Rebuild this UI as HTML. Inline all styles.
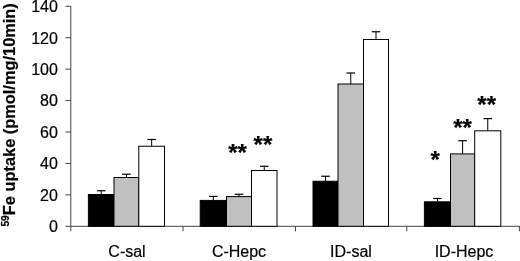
<!DOCTYPE html>
<html><head><meta charset="utf-8"><title>chart</title>
<style>
html,body{margin:0;padding:0;background:#fff;}
svg{display:block;}
text{font-family:"Liberation Sans",Arial,sans-serif;fill:#000;stroke:#000;stroke-width:0.2px;}
</style></head><body>
<svg width="520" height="261" viewBox="0 0 520 261">
<rect width="520" height="261" fill="#fff"/>

<g stroke="#444" stroke-width="1" fill="none">
<line x1="70.8" y1="6" x2="70.8" y2="226.8"/>
<line x1="65.5" y1="226.3" x2="520" y2="226.3"/>
<line x1="65.5" y1="194.87" x2="70.8" y2="194.87"/>
<line x1="65.5" y1="163.44" x2="70.8" y2="163.44"/>
<line x1="65.5" y1="132.01" x2="70.8" y2="132.01"/>
<line x1="65.5" y1="100.58" x2="70.8" y2="100.58"/>
<line x1="65.5" y1="69.15" x2="70.8" y2="69.15"/>
<line x1="65.5" y1="37.72" x2="70.8" y2="37.72"/>
<line x1="65.5" y1="6.29" x2="70.8" y2="6.29"/>
<line x1="70.8" y1="226.3" x2="70.8" y2="231.3"/>
<line x1="183" y1="226.3" x2="183" y2="231.3"/>
<line x1="295.5" y1="226.3" x2="295.5" y2="231.3"/>
<line x1="406.8" y1="226.3" x2="406.8" y2="231.3"/>
<line x1="519.4" y1="226.3" x2="519.4" y2="231.3"/>
</g>
<line x1="101.20" y1="194.5" x2="101.20" y2="190.75" stroke="#000" stroke-width="1"/>
<line x1="96.90" y1="190.75" x2="105.50" y2="190.75" stroke="#000" stroke-width="1.2"/>
<rect x="88.4" y="194.5" width="25.60" height="31.80" fill="#000" stroke="#000" stroke-width="1"/>
<line x1="126.40" y1="177.5" x2="126.40" y2="174.2" stroke="#000" stroke-width="1"/>
<line x1="122.10" y1="174.2" x2="130.70" y2="174.2" stroke="#000" stroke-width="1.2"/>
<rect x="114" y="177.5" width="24.80" height="48.80" fill="#c0c0c0" stroke="#000" stroke-width="1"/>
<line x1="151.65" y1="146.25" x2="151.65" y2="139.5" stroke="#000" stroke-width="1"/>
<line x1="147.35" y1="139.5" x2="155.95" y2="139.5" stroke="#000" stroke-width="1.2"/>
<rect x="138.8" y="146.25" width="25.70" height="80.05" fill="#fff" stroke="#000" stroke-width="1"/>
<line x1="213.35" y1="200.4" x2="213.35" y2="196.4" stroke="#000" stroke-width="1"/>
<line x1="209.05" y1="196.4" x2="217.65" y2="196.4" stroke="#000" stroke-width="1.2"/>
<rect x="200.2" y="200.4" width="26.30" height="25.90" fill="#000" stroke="#000" stroke-width="1"/>
<line x1="239.00" y1="196.6" x2="239.00" y2="194.3" stroke="#000" stroke-width="1"/>
<line x1="234.70" y1="194.3" x2="243.30" y2="194.3" stroke="#000" stroke-width="1.2"/>
<rect x="226.5" y="196.6" width="25.00" height="29.70" fill="#c0c0c0" stroke="#000" stroke-width="1"/>
<line x1="264.25" y1="170.5" x2="264.25" y2="166.25" stroke="#000" stroke-width="1"/>
<line x1="259.95" y1="166.25" x2="268.55" y2="166.25" stroke="#000" stroke-width="1.2"/>
<rect x="251.5" y="170.5" width="25.50" height="55.80" fill="#fff" stroke="#000" stroke-width="1"/>
<line x1="325.50" y1="181.25" x2="325.50" y2="176.25" stroke="#000" stroke-width="1"/>
<line x1="321.20" y1="176.25" x2="329.80" y2="176.25" stroke="#000" stroke-width="1.2"/>
<rect x="313" y="181.25" width="25.00" height="45.05" fill="#000" stroke="#000" stroke-width="1"/>
<line x1="350.75" y1="84" x2="350.75" y2="73" stroke="#000" stroke-width="1"/>
<line x1="346.45" y1="73" x2="355.05" y2="73" stroke="#000" stroke-width="1.2"/>
<rect x="338" y="84" width="25.50" height="142.30" fill="#c0c0c0" stroke="#000" stroke-width="1"/>
<line x1="376.00" y1="39.5" x2="376.00" y2="31.75" stroke="#000" stroke-width="1"/>
<line x1="371.70" y1="31.75" x2="380.30" y2="31.75" stroke="#000" stroke-width="1.2"/>
<rect x="363.5" y="39.5" width="25.00" height="186.80" fill="#fff" stroke="#000" stroke-width="1"/>
<line x1="437.45" y1="201.8" x2="437.45" y2="198.5" stroke="#000" stroke-width="1"/>
<line x1="433.15" y1="198.5" x2="441.75" y2="198.5" stroke="#000" stroke-width="1.2"/>
<rect x="424.4" y="201.8" width="26.10" height="24.50" fill="#000" stroke="#000" stroke-width="1"/>
<line x1="462.60" y1="153.9" x2="462.60" y2="140.7" stroke="#000" stroke-width="1"/>
<line x1="458.30" y1="140.7" x2="466.90" y2="140.7" stroke="#000" stroke-width="1.2"/>
<rect x="450.5" y="153.9" width="24.20" height="72.40" fill="#c0c0c0" stroke="#000" stroke-width="1"/>
<line x1="487.75" y1="130.8" x2="487.75" y2="118.6" stroke="#000" stroke-width="1"/>
<line x1="483.45" y1="118.6" x2="492.05" y2="118.6" stroke="#000" stroke-width="1.2"/>
<rect x="474.7" y="130.8" width="26.10" height="95.50" fill="#fff" stroke="#000" stroke-width="1"/>
<text x="57.9" y="232.20" font-size="16" text-anchor="end">0</text>
<text x="57.9" y="200.77" font-size="16" text-anchor="end">20</text>
<text x="57.9" y="169.34" font-size="16" text-anchor="end">40</text>
<text x="57.9" y="137.91" font-size="16" text-anchor="end">60</text>
<text x="57.9" y="106.48" font-size="16" text-anchor="end">80</text>
<text x="57.9" y="75.05" font-size="16" text-anchor="end">100</text>
<text x="57.9" y="43.62" font-size="16" text-anchor="end">120</text>
<text x="57.9" y="12.19" font-size="16" text-anchor="end">140</text>
<text x="127" y="256.8" font-size="16" text-anchor="middle">C-sal</text>
<text x="239" y="256.8" font-size="16" text-anchor="middle">C-Hepc</text>
<text x="351" y="256.8" font-size="16" text-anchor="middle">ID-sal</text>
<text x="464" y="256.8" font-size="16" text-anchor="middle">ID-Hepc</text>
<text x="237.5" y="161.2" font-size="24" font-weight="bold" text-anchor="middle" stroke-width="0.1">**</text>
<text x="262.9" y="153.1" font-size="24" font-weight="bold" text-anchor="middle" stroke-width="0.1">**</text>
<text x="435.2" y="167.5" font-size="24" font-weight="bold" text-anchor="middle" stroke-width="0.1">*</text>
<text x="462.6" y="136.2" font-size="24" font-weight="bold" text-anchor="middle" stroke-width="0.1">**</text>
<text x="486.7" y="113" font-size="24" font-weight="bold" text-anchor="middle" stroke-width="0.1">**</text>
<text transform="translate(15.3,226.6) rotate(-90) scale(1.024,1)" font-size="16" font-weight="bold"><tspan font-size="10" dy="-6.5">59</tspan><tspan dy="6.5">Fe uptake (pmol/mg/10min)</tspan></text>
</svg></body></html>
